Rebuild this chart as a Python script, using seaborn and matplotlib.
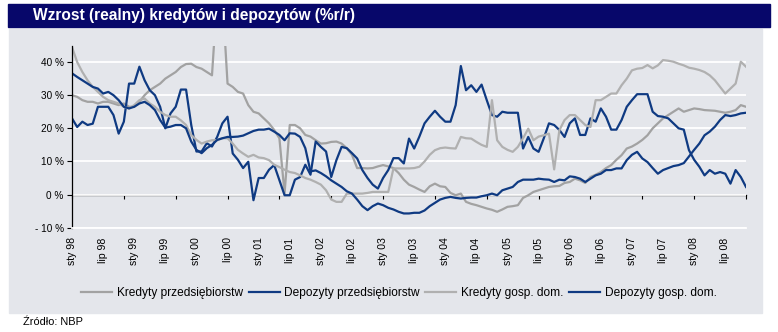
import numpy as np
import pandas as pd
import matplotlib
matplotlib.use("Agg")
import matplotlib.pyplot as plt
import seaborn as sns
from matplotlib.patches import Rectangle

# ---------------- data (monthly, Jan 1998 - Nov 2008) ----------------
kred_przeds = [
    30.0, 29.5, 28.5, 28.0, 28.0, 27.5, 28.0, 28.0, 27.5, 27.0,
    27.5, 26.5, 26.5, 28.0, 30.0, 31.5, 32.5, 33.5, 35.0, 36.0,
    37.0, 38.5, 39.4, 39.5, 38.5, 38.0, 37.0, 36.0, 60.0, 60.0,
    33.5, 32.5, 31.0, 30.5, 27.0, 25.0, 24.5, 23.0, 21.5, 19.5,
    17.0, 0.3, 21.0, 21.0, 20.0, 18.0, 17.5, 16.4, 15.4, 15.5,
    15.9, 16.0, 15.4, 14.0, 12.0, 8.0, 8.0, 7.9, 8.0, 8.5,
    8.9, 8.5, 8.0, 6.5, 4.5, 3.0, 2.3, 1.5, 0.8, 2.5,
    3.3, 2.5, 2.3, 0.5, -0.2, 0.3, -2.2, -2.8, -3.2, -3.7,
    -4.2, -4.6, -5.2, -4.5, -3.7, -3.5, -3.2, -1.0, -0.2, 0.8,
    1.3, 1.8, 2.3, 2.5, 2.6, 3.5, 3.8, 4.8, 4.3, 3.5,
    5.3, 6.0, 6.8, 8.0, 8.9, 10.5, 11.9, 13.9, 14.5, 15.4,
    16.5, 17.9, 20.0, 21.5, 23.0, 24.0, 25.0, 26.0, 25.0, 25.5,
    26.0, 25.8, 25.5, 25.4, 25.3, 25.0, 24.7, 25.0, 25.5, 27.0,
    26.5,
]
dep_przeds = [
    23.0, 20.4, 22.0, 21.0, 21.4, 26.5, 26.5, 26.5, 24.0, 18.4,
    22.0, 33.5, 33.5, 38.6, 34.5, 31.5, 30.0, 26.5, 20.0, 24.5,
    26.5, 31.7, 31.7, 21.0, 13.0, 13.0, 15.5, 14.5, 17.4, 21.5,
    23.5, 12.4, 10.5, 8.0, 9.9, -1.7, 5.0, 5.0, 7.5, 8.9,
    4.3, -0.2, -0.2, 4.5, 5.3, 9.0, 6.0, 16.0, 14.4, 13.0,
    5.3, 10.4, 14.4, 14.0, 12.5, 10.9, 7.4, 5.0, 3.0, 1.8,
    5.0, 7.4, 11.0, 11.0, 9.4, 16.9, 13.9, 17.5, 21.5, 23.5,
    25.3, 23.5, 22.0, 22.0, 27.0, 38.8, 31.5, 33.0, 31.0, 33.2,
    28.5, 24.0, 23.5, 25.0, 24.7, 24.7, 24.7, 13.9, 17.4, 13.9,
    12.9, 17.0, 21.5, 21.0, 19.5, 17.4, 21.5, 23.0, 18.0, 18.0,
    23.0, 22.0, 26.0, 23.5, 19.6, 19.6, 22.5, 26.5, 28.5, 30.3,
    30.3, 30.3, 25.0, 23.7, 23.5, 23.0, 21.5, 20.0, 19.6, 13.4,
    10.5, 8.4, 5.8, 7.4, 6.3, 6.8, 6.3, 3.3, 7.4, 5.3,
    2.3,
]
kred_gd = [
    44.5, 40.0, 37.0, 34.5, 32.5, 31.0, 29.5, 28.5, 28.0, 27.5,
    26.5, 26.0, 27.0, 28.5, 29.0, 27.5, 26.5, 25.0, 24.0, 23.5,
    23.5, 22.4, 21.0, 18.0, 16.5, 15.4, 16.0, 16.4, 16.4, 17.0,
    17.0, 15.4, 13.5, 12.4, 11.4, 12.0, 11.2, 11.0, 10.4, 9.0,
    8.3, 7.5, 6.8, 6.5, 5.8, 5.0, 4.5, 3.8, 3.0, 1.3,
    -1.5, -2.2, -2.2, 0.3, 0.3, 0.3, 0.3, 0.5, 0.8, 0.8,
    0.8, 0.8, 7.9, 7.9, 7.9, 7.9, 8.0, 8.4, 10.0, 12.0,
    13.4, 14.0, 14.2, 14.0, 13.9, 17.4, 17.0, 16.9, 15.9, 15.0,
    14.4, 28.5, 16.4, 14.4, 13.5, 12.9, 14.4, 17.0, 19.9, 16.4,
    17.5, 17.9, 18.4, 7.6, 19.4, 22.5, 24.0, 24.0, 22.5, 21.0,
    20.4, 28.5, 28.5, 29.5, 30.5, 30.5, 33.0, 35.0, 37.5, 38.0,
    38.2, 39.1, 38.1, 39.0, 40.6, 40.4, 40.1, 39.5, 39.0, 38.3,
    38.0, 37.6, 37.0, 36.0, 34.5, 32.5, 30.5, 32.0, 33.5, 40.1,
    38.6,
]
dep_gd = [
    36.6, 35.5, 34.5, 33.5, 32.5, 32.0, 30.5, 31.0, 30.0, 28.5,
    26.5, 26.0, 26.5, 27.5, 28.0, 27.0, 25.5, 22.5, 20.2, 20.5,
    21.0, 21.0, 20.0, 16.0, 13.5, 12.5, 14.0, 15.0, 16.5, 17.0,
    17.4, 17.4, 17.5, 17.8, 18.5, 19.2, 19.6, 19.6, 19.9, 19.0,
    18.0, 16.4, 18.5, 18.4, 17.4, 14.0, 7.0, 7.3, 6.5, 5.5,
    4.3, 3.3, 2.3, 1.0, 0.3, -1.5, -3.5, -4.7, -3.5, -2.7,
    -3.2, -4.0, -4.5, -5.2, -5.7, -5.7, -5.5, -5.5, -4.8, -3.5,
    -2.5, -1.5, -1.0, -0.7, -1.0, -1.2, -1.0, -0.9, -0.9, -0.5,
    -0.2, 0.3, -0.2, 1.3, 1.8, 2.3, 3.8, 4.5, 4.5, 4.5,
    4.8, 4.6, 4.5, 3.8, 4.5, 4.3, 5.5, 5.3, 4.8, 3.8,
    4.8, 5.8, 6.3, 7.4, 7.4, 7.9, 7.9, 10.4, 12.0, 12.9,
    10.9, 9.8, 8.0, 6.3, 7.4, 8.0, 8.6, 8.9, 9.5, 11.5,
    13.5, 15.4, 17.9, 19.0, 20.5, 22.5, 24.0, 23.7, 24.0, 24.5,
    24.7,
]

series_names = ["Kredyty przedsiębiorstw", "Depozyty przedsiębiorstw",
                "Kredyty gosp. dom.", "Depozyty gosp. dom."]
x_tick_labels = ["sty 98", "lip 98", "sty 99", "lip 99", "sty 00", "lip 00",
                 "sty 01", "lip 01", "sty 02", "lip 02", "sty 03", "lip 03",
                 "sty 04", "lip 04", "sty 05", "lip 05", "sty 06", "lip 06",
                 "sty 07", "lip 07", "sty 08", "lip 08"]
y_ticks = [-10, 0, 10, 20, 30, 40]
y_tick_labels = ["- 10 %", "0 %", "10 %", "20 %", "30 %", "40 %"]

title = "Wzrost (realny) kredytów i depozytów (%r/r)"
source = "Źródło: NBP"

# ---------------- styling ----------------
W, H = 778, 332
NAVY = "#07076a"
PANEL = "#e4e6eb"
GRAY1 = "#a2a2a2"
GRAY2 = "#b0b0b0"
BLUE = "#0f3a82"
palette = {series_names[0]: GRAY1, series_names[1]: BLUE,
           series_names[2]: GRAY2, series_names[3]: BLUE}

plt.rcParams["font.family"] = ["Liberation Sans", "DejaVu Sans"]

n = len(kred_gd)
idx = np.arange(n)
df = pd.concat([
    pd.DataFrame({"idx": idx, "val": vals, "series": name})
    for name, vals in zip(series_names, [kred_przeds, dep_przeds, kred_gd, dep_gd])
], ignore_index=True)

fig = plt.figure(figsize=(W / 100, H / 100), dpi=100)
fig.patch.set_facecolor("white")

def fx(px):
    return px / W

def fy(py):
    return 1 - py / H

# panel background and title bar
fig.patches.append(Rectangle((fx(9), fy(313)), fx(762 - 9), (313 - 29) / H,
                             transform=fig.transFigure, color=PANEL, zorder=-10))
fig.patches.append(Rectangle((fx(8), fy(27)), fx(770 - 8), (27 - 4) / H,
                             transform=fig.transFigure, color=NAVY, zorder=-10))
fig.text(fx(33), fy(15.5), title, color="white", fontweight="bold",
         fontsize=11.2, va="center", ha="left")
fig.text(fx(23), fy(322), source, fontsize=7.9, va="center", ha="left")

left, right, top, bottom = 72, 746, 45.5, 227.7
ax = fig.add_axes([fx(left), fy(bottom), fx(right - left), (bottom - top) / H])
ax.set_facecolor("none")

sns.lineplot(data=df, x="idx", y="val", hue="series", hue_order=series_names,
             palette=palette, linewidth=1.6, legend=False, ax=ax)

ax.set_xlim(0, n - 1)
ax.set_ylim(-10, 45)
ax.set_xlabel("")
ax.set_ylabel("")

ax.set_yticks(y_ticks)
ax.set_yticklabels(y_tick_labels)
ax.set_xticks(np.arange(0, n, 6)[:len(x_tick_labels)])
ax.set_xticklabels(x_tick_labels, rotation=90, va="top", ha="center")
ax.tick_params(axis="x", length=0, pad=7, labelsize=7.6)
ax.tick_params(axis="y", length=3.5, width=0.8, direction="out", pad=2.5,
               labelsize=7.2, color="black")

ax.yaxis.grid(True, color="white", linewidth=1.3)
ax.xaxis.grid(False)
ax.set_axisbelow(True)
for s in ["top", "right"]:
    ax.spines[s].set_visible(False)
ax.spines["bottom"].set_color("white")
ax.spines["bottom"].set_linewidth(1.3)
ax.spines["left"].set_color("black")
ax.spines["left"].set_linewidth(0.9)

# zero line with tick marks every 10 months
sec = ax.secondary_xaxis(10 / 55)
sec.set_xticks(np.arange(0, n, 10))
sec.tick_params(axis="x", direction="out", length=3, width=0.8,
                labelbottom=False, labeltop=False, color="black")
for s in sec.spines.values():
    s.set_color("black")
    s.set_linewidth(0.9)

handles = ax.get_lines()[:4]
leg = fig.legend(handles, series_names, ncol=4, loc="center",
                 bbox_to_anchor=(fx(399), fy(293)), frameon=False,
                 fontsize=8.6, handlelength=2.6, handletextpad=0.4,
                 columnspacing=0.45, borderaxespad=0)
for line, name in zip(leg.get_lines(), series_names):
    line.set_color(palette[name])
    line.set_linewidth(1.6)

fig.savefig("out.png", dpi=100, facecolor="white")
